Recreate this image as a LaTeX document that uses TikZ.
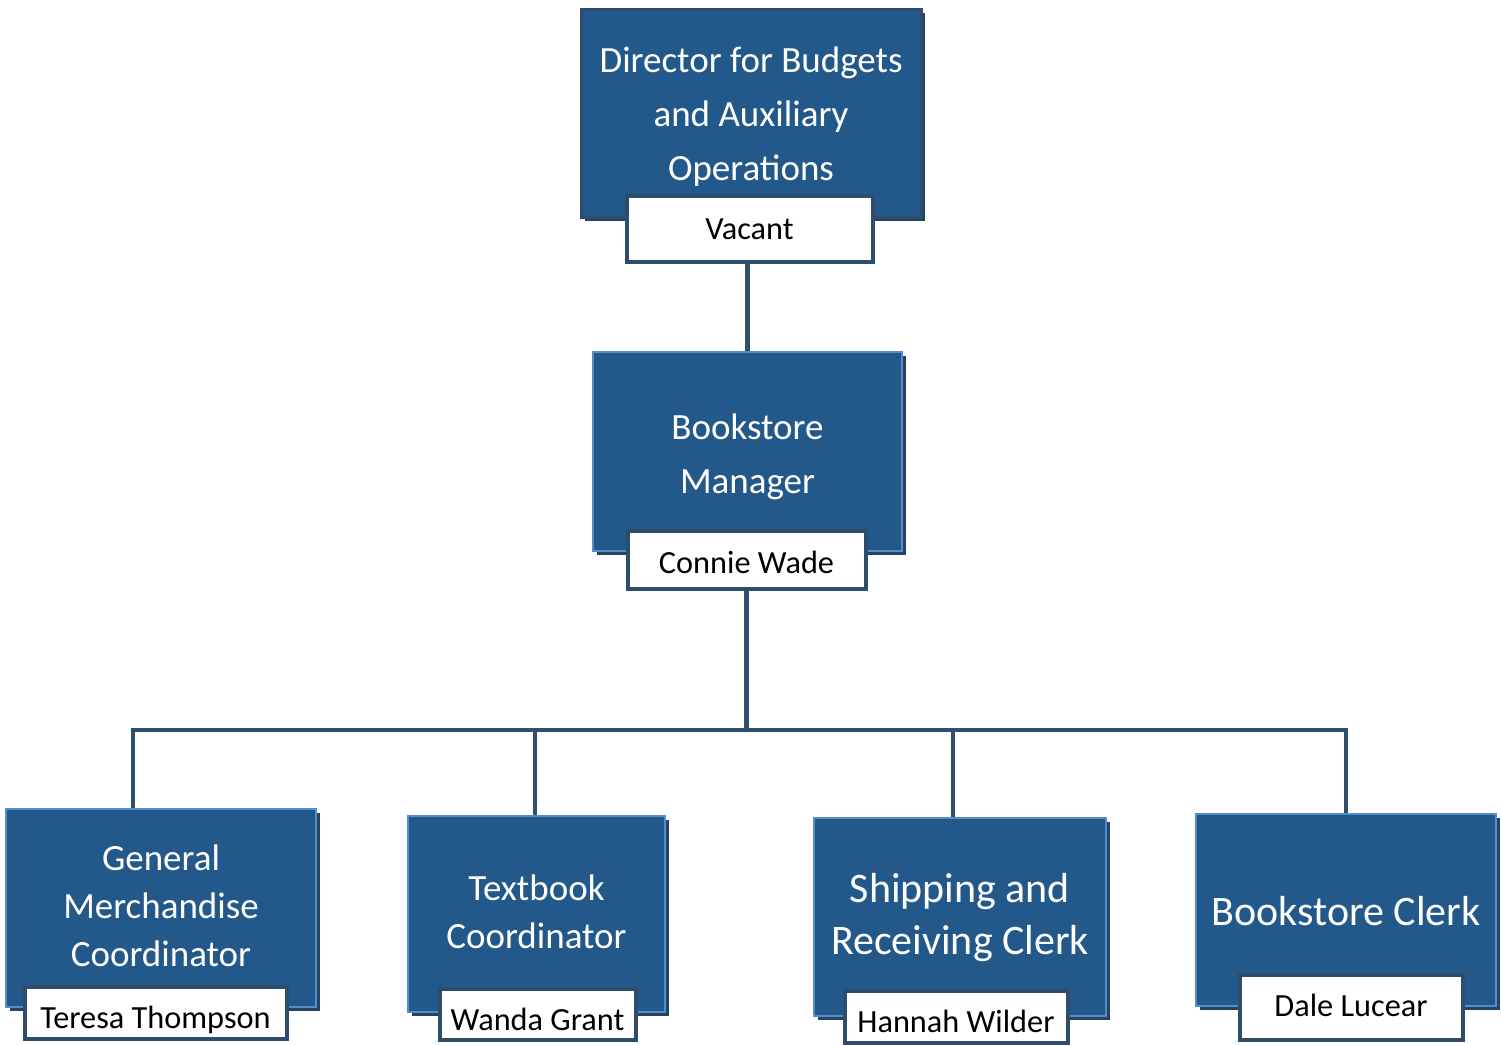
\documentclass[tikz,border=0pt]{standalone}
\usepackage{fontspec}
\setmainfont{Carlito}
\usetikzlibrary{shadows}
\definecolor{boxfill}{RGB}{35,88,139}
\definecolor{boxline}{RGB}{84,141,204}
\definecolor{darkline}{RGB}{46,76,108}
\definecolor{shadowc}{RGB}{40,66,98}
\definecolor{conn}{RGB}{47,79,111}
\begin{document}
\begin{tikzpicture}[x=1pt,y=-1pt,
  titlebox/.style={rectangle, fill=boxfill, draw=boxline, line width=2pt,
    inner sep=0pt,
    drop shadow={shadow xshift=4pt, shadow yshift=-4pt, fill=shadowc, opacity=1}},
  topbox/.style={titlebox, draw=darkline, line width=3pt},
  ttext/.style={text=white, align=center, inner sep=0pt},
  namebox/.style={rectangle, fill=white, draw=darkline, line width=4pt, inner sep=0pt,
    text=black, font=\fontsize{32.3}{38}\selectfont, text depth=0pt},
  link/.style={draw=conn, line width=4.5pt}]
\useasboundingbox (0,0) rectangle (1501,1045);

% junction coordinates
\coordinate (j1) at (133,730);
\coordinate (j2) at (535,730);
\coordinate (j3) at (953,730);
\coordinate (j4) at (1346,730);

% boxes
\node[topbox, minimum width=340pt, minimum height=208pt,
  label={[ttext, font=\fontsize{37}{54}\selectfont, yshift=-4pt]center:{Director for Budgets\\and Auxiliary\\Operations}}]
  (dir) at (751,113) {};
\node[namebox, minimum width=246pt, minimum height=66pt, text height=21pt] (vac) at (749.5,228.5) {Vacant};

\node[titlebox, minimum width=309pt, minimum height=199pt,
  label={[ttext, font=\fontsize{37}{54}\selectfont, yshift=-5pt]center:{Bookstore\\Manager}}]
  (mgr) at (747.5,451.5) {};
\node[namebox, minimum width=238pt, minimum height=58pt, text height=27.5pt] (cw) at (746.5,559.5) {Connie Wade};

\node[titlebox, minimum width=310pt, minimum height=198pt,
  label={[ttext, font=\fontsize{37}{48}\selectfont, yshift=2pt]center:{General\\Merchandise\\Coordinator}}]
  (b1) at (161,908) {};
\node[namebox, minimum width=262pt, minimum height=52pt, text height=32pt] (n1) at (155.5,1012.5) {Teresa Thompson};

\node[titlebox, minimum width=257pt, minimum height=196pt,
  label={[ttext, font=\fontsize{37}{48}\selectfont, yshift=2pt]center:{Textbook\\Coordinator}}]
  (b2) at (536.5,914) {};
\node[namebox, minimum width=196pt, minimum height=51pt, text height=32pt] (n2) at (537.5,1014) {Wanda Grant};

\node[titlebox, minimum width=292pt, minimum height=198pt,
  label={[ttext, font=\fontsize{42}{52}\selectfont, yshift=-1pt]center:{Shipping and\\Receiving Clerk}}]
  (b3) at (960,917) {};
\node[namebox, minimum width=223pt, minimum height=52pt, text height=32pt] (n3) at (956,1016.5) {Hannah Wilder};

\node[titlebox, minimum width=300pt, minimum height=192pt,
  label={[ttext, font=\fontsize{42}{52}\selectfont, yshift=-1pt]center:{Bookstore Clerk}}]
  (b4) at (1346,910) {};
\node[namebox, minimum width=223pt, minimum height=65pt, text height=19pt] (n4) at (1351,1007) {Dale Lucear};

% connectors
\draw[link] (mgr.north |- vac.south) -- (mgr.north);
\draw[link] (cw.south) -- (cw.south |- j1);
\draw[link, line join=miter] (j1 |- b1.north) -- (j1) -- (j4) -- (j4 |- b4.north);
\draw[link] (j2) -- (j2 |- b2.north);
\draw[link] (j3) -- (j3 |- b3.north);
\end{tikzpicture}
\end{document}
